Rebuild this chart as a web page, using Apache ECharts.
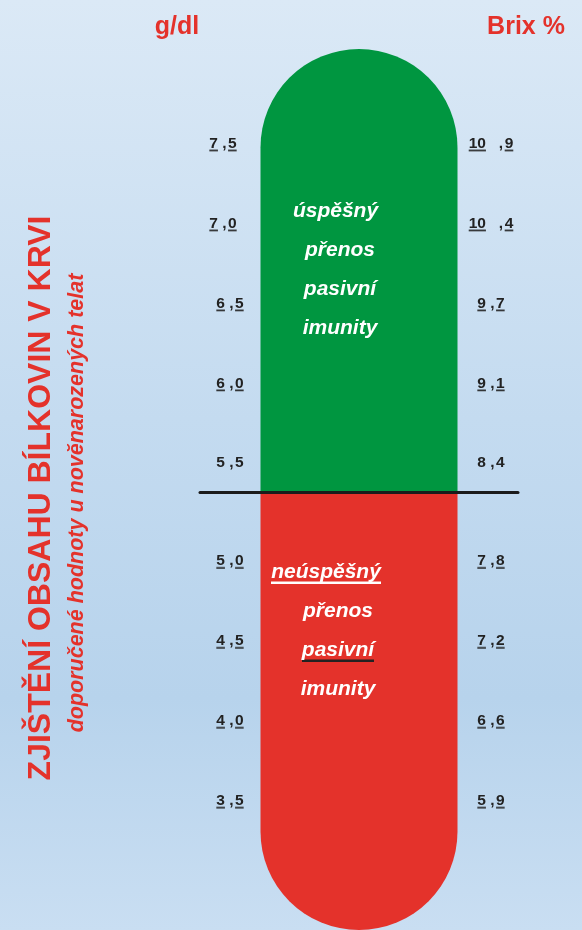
<!DOCTYPE html>
<html>
<head>
<meta charset="utf-8">
<script src="https://cdn.jsdelivr.net/npm/echarts@6/dist/echarts.min.js"></script>
<style>
html,body{margin:0;padding:0;background:#cfe2f3;}
#chart{width:582px;height:930px;}
</style>
</head>
<body>
<div id="chart"></div>
<script>
// ---------- data ----------
const gdlTop = [7.5, 7.0, 6.5, 6.0, 5.5];
const brixTop = [10.9, 10.4, 9.7, 9.1, 8.4];
const gdlBottom = [5.0, 4.5, 4.0, 3.5];
const brixBottom = [7.8, 7.2, 6.6, 5.9];
const topRange = [5.32, 8.09];      // g/dl span of the upper (successful) zone
const bottomRange = [2.69, 5.43];   // g/dl span of the lower (unsuccessful) zone
const plainRow = 5.5;               // the only row printed without underline
const zoneTopText = ['úspěšný', 'přenos', 'pasivní', 'imunity'];
const zoneBottomText = ['neúspěšný', 'přenos', 'pasivní', 'imunity'];
const unitLeft = 'g/dl';
const unitRight = 'Brix %';
const titleText = 'ZJIŠTĚNÍ OBSAHU BÍLKOVIN V KRVI';
const subtitleText = 'doporučené hodnoty u novĕnarozených telat';

// ---------- helpers ----------
const FONT = '"Liberation Sans", Arial, Helvetica, sans-serif';
const RED = '#e4322b';
const GREEN = '#009640';
const INK = '#222222';

// underline drawn as the bottom edge of a rich-text token background
function ulImage(color, h, t) {
  const c = document.createElement('canvas');
  c.width = 2; c.height = h;
  const ctx = c.getContext('2d');
  ctx.fillStyle = color;
  ctx.fillRect(0, h - t, 2, t);
  return c;
}
const TICK_FS = 15.5;
const tickBase = { fontFamily: FONT, fontWeight: 'bold', fontSize: TICK_FS, color: INK };
const tickRich = {
  d: Object.assign({}, tickBase),
  u: Object.assign({}, tickBase, { height: 16, backgroundColor: { image: ulImage(INK, 16, 1.6) } }),
  c: Object.assign({}, tickBase, { padding: [0, 1.5, 0, 0] }),
  g: Object.assign({}, tickBase, { width: 14 })
};
function numText(v, ul, shiftLeft) {
  const [a, b] = v.toFixed(1).split('.');
  const sep = a.length > 1 ? '   ,' : ' ,';
  const k = ul ? 'u' : 'd';
  return '{' + k + '|' + a + '}{c|' + sep + '}{' + k + '|' + b + '}' + (shiftLeft ? '{g|}' : '');
}
function idxOf(arr, v) { return arr.findIndex(x => Math.abs(x - v) < 1e-6); }
function isUl(v) { return Math.abs(v - plainRow) > 1e-6; }
function leftFmt(v) { return numText(v, isUl(v), v >= 7); }
function rightFmt(list, brix) {
  return function (v) {
    const i = idxOf(list, v);
    if (i < 0) return '';
    return numText(brix[i], isUl(v), false);
  };
}

function yAx(grid, pos, range, list, fmt, margin) {
  return {
    type: 'value', gridIndex: grid, position: pos,
    min: range[0], max: range[1],
    axisLine: { show: false }, axisTick: { show: false }, splitLine: { show: false },
    axisLabel: { show: true, inside: true, align: 'center', customValues: list,
      formatter: fmt, margin: margin, rich: tickRich }
  };
}

const zoneFont = { color: '#ffffff', fontFamily: FONT, fontWeight: 'bold', fontStyle: 'italic', fontSize: 21, lineHeight: 39 };

const chart = echarts.init(document.getElementById('chart'), null, { renderer: 'canvas' });
chart.setOption({
  animation: false,
  backgroundColor: new echarts.graphic.LinearGradient(0, 0, 0, 1, [
    { offset: 0, color: '#dbe9f6' },
    { offset: 0.45, color: '#c4dbf0' },
    { offset: 0.75, color: '#b7d3ec' },
    { offset: 1, color: '#c9def2' }
  ]),
  grid: [
    { left: 200, right: 64, top: 49, height: 443 },
    { left: 200, right: 64, top: 492, height: 439 }
  ],
  xAxis: [
    { type: 'category', gridIndex: 0, data: ['zone'], z: 10,
      axisLine: { show: true, onZero: false, lineStyle: { color: '#1b1b1b', width: 3 } },
      axisTick: { show: false }, axisLabel: { show: false } },
    { type: 'category', gridIndex: 1, data: ['zone'], show: false }
  ],
  yAxis: [
    yAx(0, 'left', topRange, gdlTop, leftFmt, 30),
    yAx(0, 'right', topRange, gdlTop, rightFmt(gdlTop, brixTop), 27),
    yAx(1, 'left', bottomRange, gdlBottom, leftFmt, 30),
    yAx(1, 'right', bottomRange, gdlBottom, rightFmt(gdlBottom, brixBottom), 27)
  ],
  series: [
    { type: 'bar', xAxisIndex: 0, yAxisIndex: 0, stack: 'top', barWidth: 197, silent: true,
      itemStyle: { color: 'rgba(0,0,0,0)' }, data: [topRange[0]] },
    { type: 'bar', xAxisIndex: 0, yAxisIndex: 0, stack: 'top', barWidth: 197, silent: true,
      itemStyle: { color: GREEN, borderRadius: [98.5, 98.5, 0, 0] },
      data: [topRange[1] - topRange[0]],
      label: {
        show: true, position: 'inside', offset: [-19, -1],
        formatter: '{a|' + zoneTopText[0] + '}\n' + zoneTopText.slice(1).map(t => '{b|' + t + '}').join('\n'),
        rich: {
          a: Object.assign({}, zoneFont, { padding: [0, 9, 0, 0] }),
          b: Object.assign({}, zoneFont)
        }
      } },
    { type: 'bar', xAxisIndex: 1, yAxisIndex: 2, stack: 'bottom', barWidth: 197, silent: true,
      itemStyle: { color: 'rgba(0,0,0,0)' }, data: [bottomRange[0]] },
    { type: 'bar', xAxisIndex: 1, yAxisIndex: 2, stack: 'bottom', barWidth: 197, silent: true,
      itemStyle: { color: RED, borderRadius: [0, 0, 98.5, 98.5] },
      data: [bottomRange[1] - bottomRange[0]],
      label: {
        show: true, position: 'inside', offset: [-21, -80],
        formatter: '{a|' + zoneBottomText[0] + '}{s|}\n{b|' + zoneBottomText[1] + '}\n{p|' +
          zoneBottomText[2] + '}\n{b|' + zoneBottomText[3] + '}',
        rich: {
          a: Object.assign({}, zoneFont, { height: 22, backgroundColor: { image: ulImage('#ffffff', 22, 2) } }),
          s: Object.assign({}, zoneFont, { width: 24 }),
          b: Object.assign({}, zoneFont),
          p: Object.assign({}, zoneFont, { height: 22, backgroundColor: { image: ulImage('#222222', 22, 2) } })
        }
      } }
  ],
  graphic: [
    { type: 'text', x: 177, y: 27, silent: true,
      style: { text: unitLeft, fill: RED, font: 'bold 25px ' + FONT, align: 'center', verticalAlign: 'middle' } },
    { type: 'text', x: 526, y: 27, silent: true,
      style: { text: unitRight, fill: RED, font: 'bold 25px ' + FONT, align: 'center', verticalAlign: 'middle' } },
    { type: 'text', x: 41, y: 498, rotation: Math.PI / 2, silent: true,
      style: { text: titleText, fill: RED, font: 'bold 32px ' + FONT, align: 'center', verticalAlign: 'middle' } },
    { type: 'text', x: 77.5, y: 503, rotation: Math.PI / 2, silent: true,
      style: { text: subtitleText, fill: RED, font: 'italic bold 21.5px ' + FONT, align: 'center', verticalAlign: 'middle' } }
  ]
});
</script>
</body>
</html>
